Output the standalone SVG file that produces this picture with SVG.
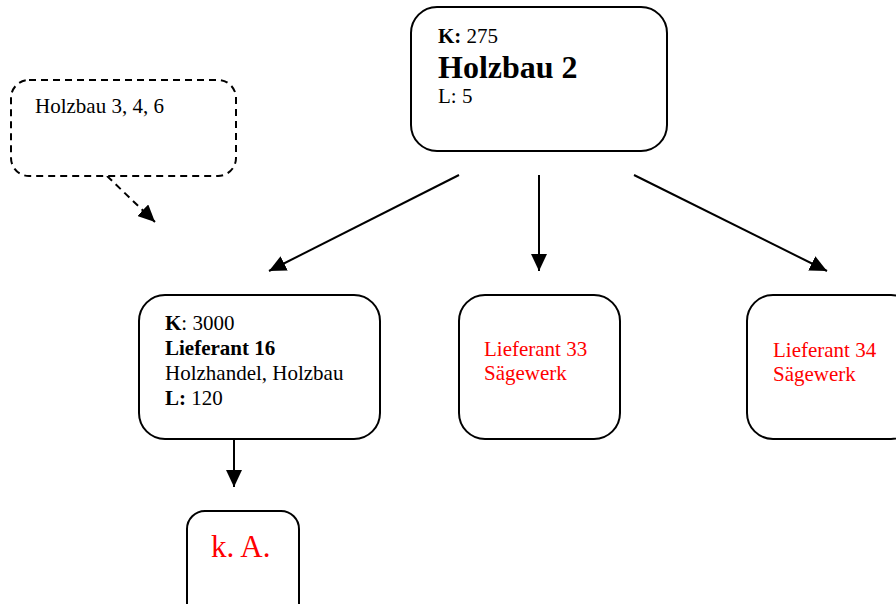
<svg xmlns="http://www.w3.org/2000/svg" width="896" height="604" viewBox="0 0 896 604">
<style>
.box{fill:#fff;stroke:#000;stroke-width:2}
.dbox{fill:#fff;stroke:#000;stroke-width:2;stroke-dasharray:7 5}
.t{font-family:"Liberation Serif","Times New Roman",serif;font-size:21px;fill:#000}
.red{fill:#f00}
.b{font-weight:bold}
.line{stroke:#000;stroke-width:2;fill:none}
.dline{stroke:#000;stroke-width:2;fill:none;stroke-dasharray:7 5}
</style>
<defs>
<marker id="ah" markerUnits="userSpaceOnUse" markerWidth="18" markerHeight="16" refX="17" refY="8" orient="auto">
<path d="M0,0 L17,8 L0,16 Z" fill="#000"/>
</marker>
</defs>
<g id="connectors">
<line class="line" x1="459" y1="175" x2="269" y2="271" marker-end="url(#ah)"/>
<line class="line" x1="539" y1="175" x2="539" y2="271" marker-end="url(#ah)"/>
<line class="line" x1="634" y1="175" x2="827" y2="271" marker-end="url(#ah)"/>
<line class="line" x1="234" y1="439" x2="234" y2="487" marker-end="url(#ah)"/>
<line class="dline" x1="107" y1="176" x2="155" y2="222" marker-end="url(#ah)"/>
</g>
<g id="holzbau2">
<rect class="box" x="411" y="7" width="256" height="144" rx="26"/>
<text class="t" x="438" y="43"><tspan class="b">K:</tspan> 275</text>
<text class="t b" x="438" y="78" style="font-size:32px">Holzbau 2</text>
<text class="t" x="438" y="103">L: 5</text>
</g>
<g id="holzbau346">
<rect class="dbox" x="11" y="80" width="225" height="96" rx="18"/>
<text class="t" x="35" y="113">Holzbau 3, 4, 6</text>
</g>
<g id="lieferant16">
<rect class="box" x="139" y="295" width="241" height="144" rx="26"/>
<text class="t" x="165" y="330"><tspan class="b">K</tspan>: 3000</text>
<text class="t b" x="165" y="355">Lieferant 16</text>
<text class="t" x="165" y="380">Holzhandel, Holzbau</text>
<text class="t" x="165" y="405"><tspan class="b">L:</tspan> 120</text>
</g>
<g id="lieferant33">
<rect class="box" x="459" y="295" width="161" height="144" rx="26"/>
<text class="t red" x="484" y="356">Lieferant 33</text>
<text class="t red" x="484" y="380">Sägewerk</text>
</g>
<g id="lieferant34">
<rect class="box" x="747" y="295" width="170" height="144" rx="26"/>
<text class="t red" x="773" y="357">Lieferant 34</text>
<text class="t red" x="773" y="381">Sägewerk</text>
</g>
<g id="ka">
<rect class="box" x="187" y="511" width="112" height="120" rx="18"/>
<text class="t red" x="211" y="557" style="font-size:31px">k. A.</text>
</g>
</svg>
